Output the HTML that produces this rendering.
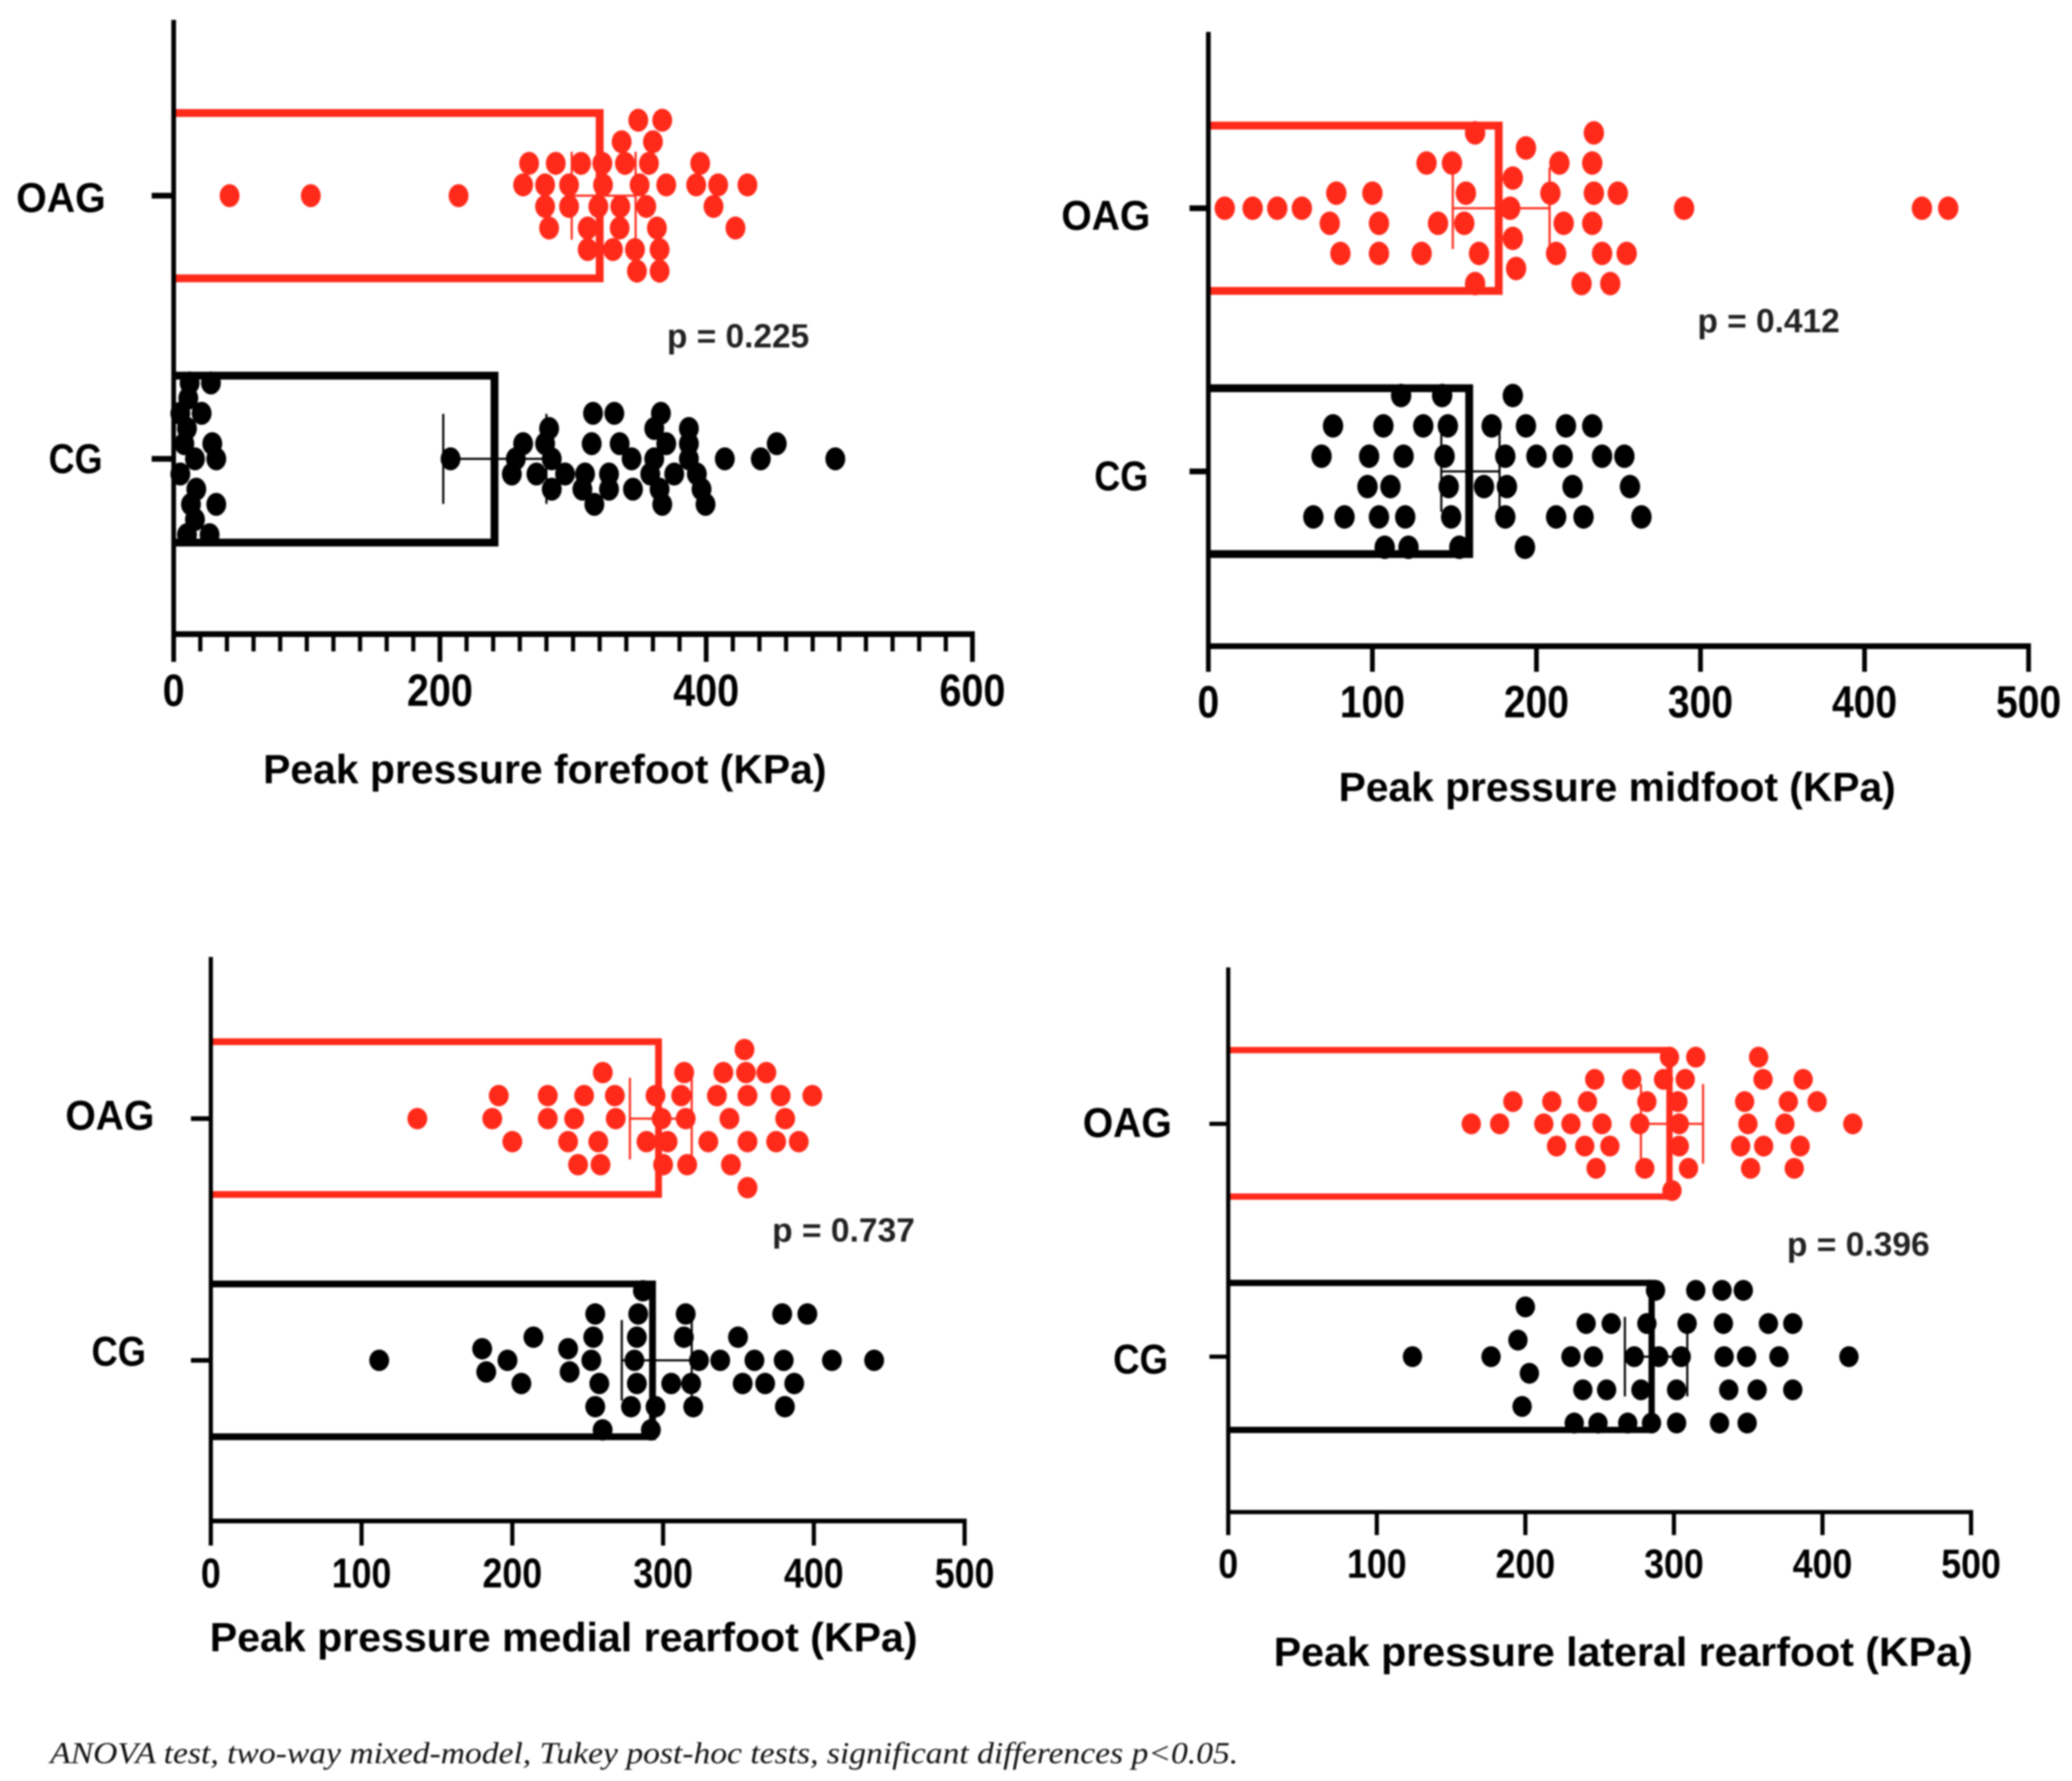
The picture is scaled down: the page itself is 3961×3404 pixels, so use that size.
<!DOCTYPE html>
<html lang="en">
<head>
<meta charset="utf-8">
<title>Peak pressure by group</title>
<style>
html,body{margin:0;padding:0;background:#fff;width:3961px;height:3404px;overflow:hidden}
svg{display:block;filter:blur(1.5px)}
text{font-family:"Liberation Sans",sans-serif;font-weight:700;fill:#000}
.title{font-size:78px}
.cat{font-size:80px}
.pv{font-size:64px;fill:#222}
.foot{font-family:"Liberation Serif",serif;font-style:italic;font-weight:400;font-size:58px;fill:#111}
</style>
</head>
<body>
<svg id="figure" xmlns="http://www.w3.org/2000/svg" width="3961" height="3404" viewBox="0 0 3961 3404">
  <rect x="0" y="0" width="3961" height="3404" fill="#fff"/>

  <g id="panel-forefoot"></g>
  <g id="panel-midfoot"></g>
  <g id="panel-medial"></g>
  <g id="panel-lateral"></g>

  <text class="title" x="503" y="1497" textLength="1077" lengthAdjust="spacingAndGlyphs">Peak pressure forefoot (KPa)</text>
  <text class="cat" x="31" y="405" textLength="171" lengthAdjust="spacingAndGlyphs">OAG</text>
  <text class="cat" x="93" y="904" textLength="103" lengthAdjust="spacingAndGlyphs">CG</text>
  <text class="pv" x="1275" y="664" textLength="272" lengthAdjust="spacingAndGlyphs">p = 0.225</text>

  <text class="title" x="2559" y="1531" textLength="1065" lengthAdjust="spacingAndGlyphs">Peak pressure midfoot (KPa)</text>
  <text class="cat" x="2029" y="439" textLength="170" lengthAdjust="spacingAndGlyphs">OAG</text>
  <text class="cat" x="2092" y="937" textLength="103" lengthAdjust="spacingAndGlyphs">CG</text>
  <text class="pv" x="3245" y="635" textLength="272" lengthAdjust="spacingAndGlyphs">p = 0.412</text>

  <text class="title" x="401" y="3156" textLength="1353" lengthAdjust="spacingAndGlyphs">Peak pressure medial rearfoot (KPa)</text>
  <text class="cat" x="125" y="2159" textLength="170" lengthAdjust="spacingAndGlyphs">OAG</text>
  <text class="cat" x="175" y="2610" textLength="104" lengthAdjust="spacingAndGlyphs">CG</text>
  <text class="pv" x="1476" y="2373" textLength="273" lengthAdjust="spacingAndGlyphs">p = 0.737</text>

  <text class="title" x="2435" y="3184" textLength="1336" lengthAdjust="spacingAndGlyphs">Peak pressure lateral rearfoot (KPa)</text>
  <text class="cat" x="2070" y="2173" textLength="170" lengthAdjust="spacingAndGlyphs">OAG</text>
  <text class="cat" x="2128" y="2625" textLength="105" lengthAdjust="spacingAndGlyphs">CG</text>
  <text class="pv" x="3416" y="2400" textLength="273" lengthAdjust="spacingAndGlyphs">p = 0.396</text>

  <text class="foot" x="96" y="3370" textLength="2271" lengthAdjust="spacingAndGlyphs">ANOVA test, two-way mixed-model, Tukey post-hoc tests, significant differences p&lt;0.05.</text>
</svg>

<script>
// Forefoot data
const forefootTicks = [0, 200, 400, 600];
const forefootMinorTicks = [20,40,60,80,100,120,140,160,180,220,240,260,280,300,320,340,360,380,420,440,460,480,500,520,540,560,580];
const forefootMeans = [320, 241];
const forefootErrLow = [299, 202.5];
const forefootErrHigh = [347, 280];
const forefootOagValues = [349,367,336.5,360,267,287,306,322,339,357,395.5,262.5,279,297,322.5,350,370,392.5,409,431,42,103,214,279,297,319,335.5,355,405.5,282,311,335,363,422,311,330,346.5,365,348,365];
const forefootOagRows = [-7,-7,-5,-5,-3,-3,-3,-3,-3,-3,-3,-1,-1,-1,-1,-1,-1,-1,-1,-1,0,0,0,1,1,1,1,1,1,3,3,3,3,3,5,5,5,5,7,7];
const forefootCgValues = [12,28,11,5,21,315,331,366,10,282,361,387,8,29,262.5,279,314,335,370,387,453,16,32,208,257,284,344,361,387,414,441,497,5,254,272.5,294,309,327,358,376,393,17,284,307,327,345,365,396.5,13,32,316,367,399.5,16,10,27];
const forefootCgRows = [-5,-5,-4,-3,-3,-3,-3,-3,-2,-2,-2,-2,-1,-1,-1,-1,-1,-1,-1,-1,-1,0,0,0,0,0,0,0,0,0,0,0,1,1,1,1,1,1,1,1,1,2,2,2,2,2,2,2,3,3,3,3,3,4,5,5];

// Midfoot data
const midfootTicks = [0, 100, 200, 300, 400, 500];
const midfootMeans = [177, 159];
const midfootErrLow = [149, 142];
const midfootErrHigh = [208, 177.5];
const midfootOagValues = [162.6,235,193.6,133,148.5,214,234,185.6,78,100,157,208.5,235,249.6,10,27,42,57,184,290,435,451,74,104,140,156,216.6,234,185.6,80.5,104,130,165,212,240,255,187.6,162.6,227.5,245];
const midfootOagRows = [-5,-5,-4,-3,-3,-3,-3,-2,-1,-1,-1,-1,-1,-1,0,0,0,0,0,0,0,0,1,1,1,1,1,1,2,3,3,3,3,3,3,3,4,5,5,5];
const midfootCgValues = [117.5,142.5,185.6,76,106.7,131,146,172.7,193.6,218,234,69,98,119,144,181,200,216,240,253.6,97,111,146.5,168,182,222,257,64,83,104,120,148,181,212,228.7,264,107.5,122,153,193];
const midfootCgRows = [-5,-5,-5,-3,-3,-3,-3,-3,-3,-3,-3,-1,-1,-1,-1,-1,-1,-1,-1,-1,1,1,1,1,1,1,1,3,3,3,3,3,3,3,3,3,5,5,5,5];

// Medial rearfoot data
const medialTicks = [0, 100, 200, 300, 400, 500];
const medialMeans = [297, 293];
const medialErrLow = [278, 272.6];
const medialErrHigh = [319, 319];
const medialOagValues = [354,260,314,340,355,368.5,191,223.5,247.6,268,295,312,335.7,356,378,399,137,186.7,223.5,241,268.6,299,315,344,381,200,237,257,289,303,330,356,375,390,243.6,258.5,300,316,345,356];
const medialOagRows = [-3,-2,-2,-2,-2,-2,-1,-1,-1,-1,-1,-1,-1,-1,-1,-1,0,0,0,0,0,0,0,0,0,1,1,1,1,1,1,1,1,1,2,2,2,2,2,3];
const medialCgValues = [286.6,255,283.5,315,379,395.7,214,253.7,282.6,313.8,349.7,180,237,111.7,196.8,252.4,281,323.8,337.9,360.6,380,412,440,182.7,238,206,257.7,282.6,305.4,318.6,352.8,367.7,387,255,278.7,295,320,380.8,259.9,291.9];
const medialCgRows = [-6,-4,-4,-4,-4,-4,-2,-2,-2,-2,-2,-1,-1,0,0,0,0,0,0,0,0,0,0,1,1,2,2,2,2,2,2,2,2,4,4,4,4,4,6,6];

// Lateral rearfoot data
const lateralTicks = [0, 100, 200, 300, 400, 500];
const lateralMeans = [297, 285];
const lateralErrLow = [277.8, 267];
const lateralErrHigh = [319.6, 309];
const lateralOagValues = [297,314.7,357,246.7,271.6,293,307.6,360,387,191.6,217.8,241.8,281.8,302.7,347.6,377,396.4,163.6,182.7,212.4,230.7,251.6,277,303.6,349.8,374.7,420.4,221,240,256.9,303.6,344.9,360.4,385,247.6,280.4,309.8,351.6,381,298.7];
const lateralOagRows = [-3,-3,-3,-2,-2,-2,-2,-2,-2,-1,-1,-1,-1,-1,-1,-1,-1,0,0,0,0,0,0,0,0,0,0,1,1,1,1,1,1,1,2,2,2,2,2,3];
const lateralCgValues = [287.6,314.7,332.4,346.7,200,240.9,257.8,281.8,308.9,333.3,363.6,380,195,124,176.9,230.7,245.8,273.3,289.8,304.9,333.8,348.9,370.7,417.8,202.7,238.7,254.7,277.8,301.8,336.9,356,380,197.8,232.9,248.9,268.9,284.9,301.8,330.7,349.3];
const lateralCgRows = [-4,-4,-4,-4,-3,-2,-2,-2,-2,-2,-2,-2,-1,0,0,0,0,0,0,0,0,0,0,0,1,2,2,2,2,2,2,2,3,4,4,4,4,4,4,4];

const RED = '#ff2a1a';
const BLACK = '#000';
const SVGNS = 'http://www.w3.org/2000/svg';

function make(parent, tag, attrs) {
  const el = document.createElementNS(SVGNS, tag);
  for (const k in attrs) el.setAttribute(k, attrs[k]);
  parent.appendChild(el);
  return el;
}

function xAxisFn(domainMax, x0, x1) {
  return function (v) { return x0 + (v / domainMax) * (x1 - x0); };
}

function drawGroup(g, x, cfg, mean, low, high, values, rows, color) {
  const left = x(0);
  const d = 'M' + left + ' ' + cfg.top + 'H' + x(mean) + 'V' + cfg.bottom + 'H' + left;
  const bar = make(g, 'path', {d: d, fill: 'none', stroke: color, 'stroke-width': cfg.barStroke});
  
  

  const whisker = make(g, 'line', {x1: x(low), x2: x(high), y1: cfg.center, y2: cfg.center, stroke: color, 'stroke-width': 4});
  
  
  const capLow = make(g, 'line', {x1: x(low), x2: x(low), y1: cfg.center - cfg.errHalf, y2: cfg.center + cfg.errHalf, stroke: color, 'stroke-width': 4});
  
  
  const capHigh = make(g, 'line', {x1: x(high), x2: x(high), y1: cfg.center - cfg.errHalf, y2: cfg.center + cfg.errHalf, stroke: color, 'stroke-width': 4});
  
  

  values.forEach(function (v, i) {
    const dot = make(g, 'ellipse', {cx: x(v), cy: cfg.center + rows[i] * cfg.lane, rx: cfg.rx, ry: cfg.ry, fill: color});
    
    
  });
}

function drawPanel(p) {
  const g = document.getElementById(p.id);
  const x = xAxisFn(p.max, p.x0, p.x1);

  drawGroup(g, x, p.oag, p.means[0], p.low[0], p.high[0], p.oagValues, p.oagRows, RED);
  drawGroup(g, x, p.cg, p.means[1], p.low[1], p.high[1], p.cgValues, p.cgRows, BLACK);

  const yAxis = make(g, 'line', {x1: p.x0, x2: p.x0, y1: p.yTop, y2: p.yAxis + p.axisH / 2, stroke: BLACK, 'stroke-width': p.axisW});
  
  
  const xAxis = make(g, 'line', {x1: p.x0 - p.axisW / 2, x2: p.x1 + p.axisW / 2, y1: p.yAxis, y2: p.yAxis, stroke: BLACK, 'stroke-width': p.axisH});
  
  

  [p.oag.center, p.cg.center].forEach(function (cy) {
    const tick = make(g, 'line', {x1: p.x0 - p.yTickLen, x2: p.x0, y1: cy, y2: cy, stroke: BLACK, 'stroke-width': p.yTickW});
    
    
  });

  p.ticks.forEach(function (t) {
    const tick = make(g, 'line', {x1: x(t), x2: x(t), y1: p.yAxis, y2: p.yAxis + p.tickLen, stroke: BLACK, 'stroke-width': p.axisW});
    
    
    const s = String(t);
    const label = make(g, 'text', {x: x(t), y: p.labelY + p.labelFs * 0.35, 'text-anchor': 'middle', 'font-size': p.labelFs, textLength: p.digitW * s.length, lengthAdjust: 'spacingAndGlyphs'});
    label.textContent = s;
    
    
  });

  (p.minor || []).forEach(function (t) {
    const tick = make(g, 'line', {x1: x(t), x2: x(t), y1: p.yAxis, y2: p.yAxis + p.minorLen, stroke: BLACK, 'stroke-width': p.axisW - 1});
    
    
  });
}

drawPanel({
  id: 'panel-forefoot', max: 600, x0: 332, x1: 1859, yTop: 38, yAxis: 1212,
  axisW: 9, axisH: 11, tickLen: 53, minorLen: 33, yTickLen: 42, yTickW: 11,
  labelY: 1319, labelFs: 86, digitW: 42,
  ticks: forefootTicks, minor: forefootMinorTicks,
  means: forefootMeans, low: forefootErrLow, high: forefootErrHigh,
  oagValues: forefootOagValues, oagRows: forefootOagRows,
  cgValues: forefootCgValues, cgRows: forefootCgRows,
  oag: {center: 374, top: 216, bottom: 532, barStroke: 15, lane: 20.6, rx: 19, ry: 22, errHalf: 84},
  cg: {center: 877, top: 718, bottom: 1037, barStroke: 15, lane: 29, rx: 19, ry: 22, errHalf: 86}
});

drawPanel({
  id: 'panel-midfoot', max: 500, x0: 2310, x1: 3878, yTop: 61, yAxis: 1235,
  axisW: 9, axisH: 11, tickLen: 49, yTickLen: 36, yTickW: 11,
  labelY: 1341, labelFs: 86, digitW: 41.5,
  ticks: midfootTicks,
  means: midfootMeans, low: midfootErrLow, high: midfootErrHigh,
  oagValues: midfootOagValues, oagRows: midfootOagRows,
  cgValues: midfootCgValues, cgRows: midfootCgRows,
  oag: {center: 398, top: 240, bottom: 556, barStroke: 15, lane: 28.8, rx: 19.5, ry: 22.5, errHalf: 78},
  cg: {center: 901, top: 742, bottom: 1059, barStroke: 15, lane: 29, rx: 19.5, ry: 22.5, errHalf: 77}
});

drawPanel({
  id: 'panel-medial', max: 500, x0: 403, x1: 1844, yTop: 1829, yAxis: 2907,
  axisW: 8, axisH: 9, tickLen: 47, yTickLen: 38, yTickW: 9,
  labelY: 3006, labelFs: 80, digitW: 38,
  ticks: medialTicks,
  means: medialMeans, low: medialErrLow, high: medialErrHigh,
  oagValues: medialOagValues, oagRows: medialOagRows,
  cgValues: medialCgValues, cgRows: medialCgRows,
  oag: {center: 2138, top: 1991, bottom: 2283, barStroke: 13, lane: 44, rx: 19, ry: 20.5, errHalf: 78},
  cg: {center: 2600, top: 2454, bottom: 2746, barStroke: 13, lane: 22.15, rx: 19, ry: 20.5, errHalf: 77}
});

drawPanel({
  id: 'panel-lateral', max: 500, x0: 2348, x1: 3768, yTop: 1849, yAxis: 2890,
  axisW: 8, axisH: 8, tickLen: 44, yTickLen: 36, yTickW: 8,
  labelY: 2988, labelFs: 78, digitW: 38,
  ticks: lateralTicks,
  means: lateralMeans, low: lateralErrLow, high: lateralErrHigh,
  oagValues: lateralOagValues, oagRows: lateralOagRows,
  cgValues: lateralCgValues, cgRows: lateralCgRows,
  oag: {center: 2148, top: 2007, bottom: 2287, barStroke: 12, lane: 42.5, rx: 18.5, ry: 20, errHalf: 76},
  cg: {center: 2593, top: 2452, bottom: 2733, barStroke: 12, lane: 31.7, rx: 18.5, ry: 20, errHalf: 76}
});
</script>
</body>
</html>
